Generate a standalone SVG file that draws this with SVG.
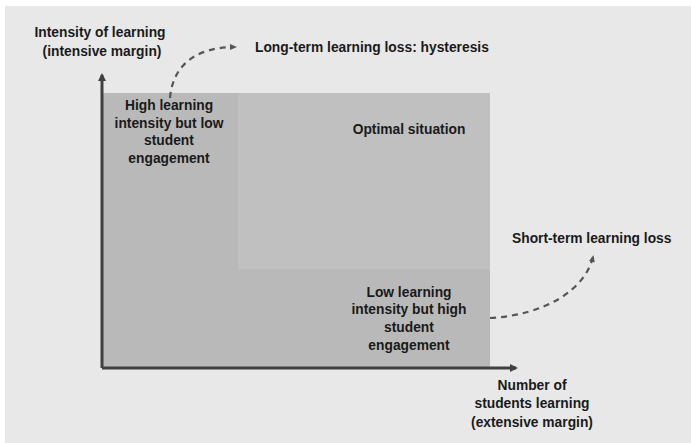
<svg xmlns="http://www.w3.org/2000/svg" width="691" height="443" viewBox="0 0 691 443">
<style>
text{font-family:"Liberation Sans",Arial,sans-serif;font-weight:bold;font-size:13.8px;fill:#1a1a1a}
.c{text-anchor:middle}
.axis{stroke:#404040;stroke-width:3;fill:none}
.dash{stroke:#555;stroke-width:2.2;fill:none;stroke-dasharray:6 5}
</style>
<defs>
<marker id="ah" markerWidth="8" markerHeight="8" refX="6" refY="4" orient="auto" markerUnits="userSpaceOnUse">
<path d="M0,0 L8,4 L0,8 z" fill="#404040"/>
</marker>
<marker id="dh" markerWidth="7" markerHeight="7" refX="5" refY="3.5" orient="auto" markerUnits="userSpaceOnUse">
<path d="M0,0.5 L7,3.5 L0,6.5 z" fill="#555"/>
</marker>
</defs>
<rect x="0" y="0" width="691" height="443" fill="#ffffff"/>
<rect x="5" y="6" width="686" height="437" fill="#e8e8e8"/>
<g id="quadrants">
<rect x="102" y="93" width="388" height="275" fill="#b9b9b9"/>
<rect x="238" y="93" width="252" height="176" fill="#c0c0c0"/>
</g>
<g id="connectors">
<path class="axis" d="M102,368 L102,75" marker-end="url(#ah)"/>
<path class="axis" d="M102,368 L516,368" marker-end="url(#ah)"/>
<path class="dash" d="M170,98 C173,62 200,47 235,47" marker-end="url(#dh)"/>
<path class="dash" d="M490,318 C545,315 585,290 593,257" marker-end="url(#dh)"/>
</g>
<g id="y-axis-label">
<text class="c" x="100" y="37">Intensity of learning</text>
<text class="c" x="102" y="56">(intensive margin)</text>
</g>
<g id="x-axis-label">
<text class="c" x="532" y="390">Number of</text>
<text class="c" x="532" y="408">students learning</text>
<text class="c" x="532" y="427">(extensive margin)</text>
</g>
<g id="long-term">
<text x="255" y="52">Long-term learning loss: hysteresis</text>
</g>
<g id="short-term">
<text x="512" y="243">Short-term learning loss</text>
</g>
<g id="high-intensity">
<text class="c" x="169" y="110">High learning</text>
<text class="c" x="169" y="128">intensity but low</text>
<text class="c" x="169" y="145">student</text>
<text class="c" x="169" y="163">engagement</text>
</g>
<g id="optimal">
<text class="c" x="409" y="134">Optimal situation</text>
</g>
<g id="low-intensity">
<text class="c" x="409" y="297">Low learning</text>
<text class="c" x="409" y="314">intensity but high</text>
<text class="c" x="409" y="332">student</text>
<text class="c" x="409" y="350">engagement</text>
</g>
</svg>
